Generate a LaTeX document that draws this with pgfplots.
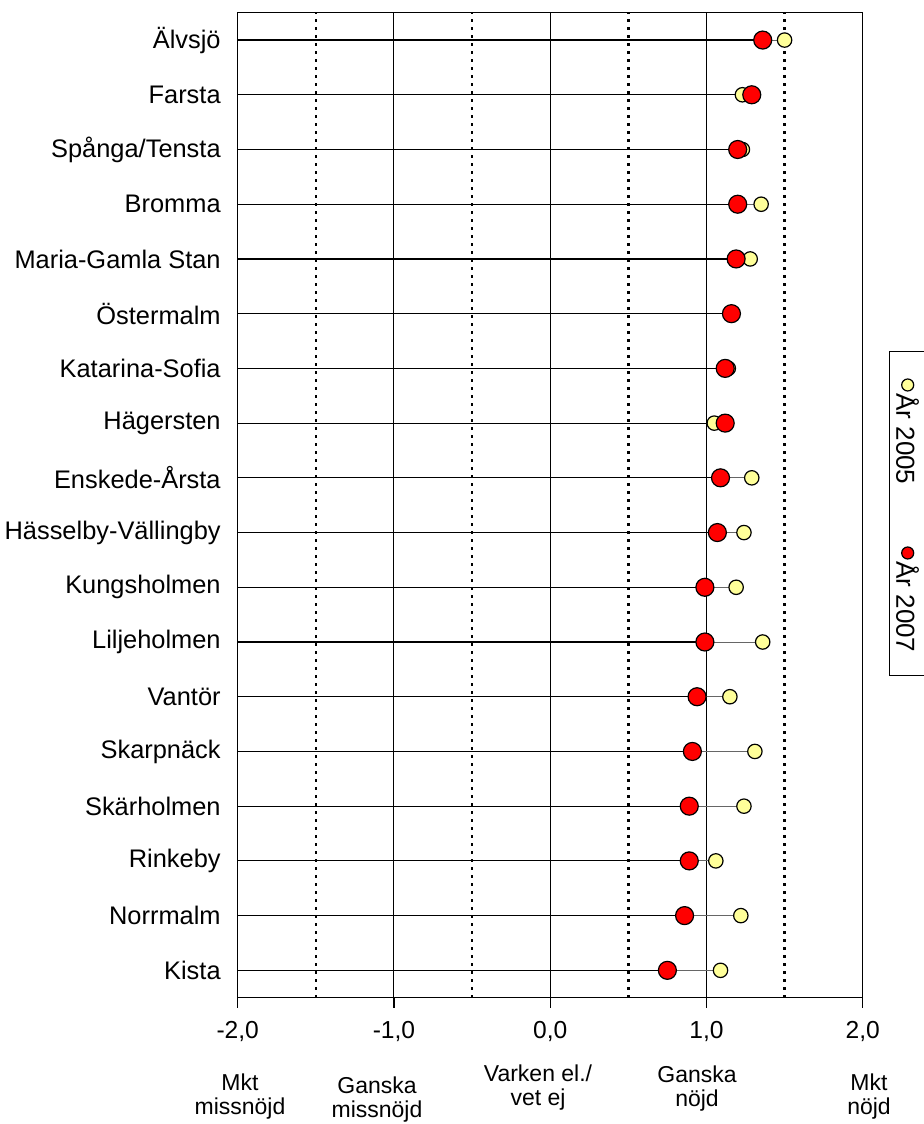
\documentclass[border=0pt]{standalone}
\usepackage{fontspec}
\setmainfont{Liberation Sans}
\usepackage{pgfplots}
\usepackage{pgfplotstable}
\pgfplotsset{compat=1.18}

\definecolor{pale}{HTML}{FFFF99}
\definecolor{dotred}{HTML}{FF0000}

% y = row (17 = top), v05 = År 2005, v07 = År 2007
\pgfplotstableread{
y  v05  v07
17 1.50 1.36
16 1.23 1.29
15 1.23 1.20
14 1.35 1.20
13 1.28 1.19
12 1.16 1.16
11 1.14 1.12
10 1.05 1.12
9  1.29 1.09
8  1.24 1.07
7  1.19 0.99
6  1.36 0.99
5  1.15 0.94
4  1.31 0.91
3  1.24 0.89
2  1.06 0.89
1  1.22 0.86
0  1.09 0.75
}\data

\begin{document}
\begin{tikzpicture}
\begin{axis}[
  name=main, at={(0,0)}, anchor=south west,
  scale only axis, width=312.5pt, height=492.5pt,
  xmin=-2, xmax=2, ymin=-0.5, ymax=17.5,
  xtick={-2,-1,0,1,2},
  minor xtick={-1.5,-0.5,0.5,1.5},
  xtick pos=bottom,
  ytick={0,...,17},
  yticklabels={Kista, Norrmalm, Rinkeby, Skärholmen, Skarpnäck, Vantör,
    Liljeholmen, Kungsholmen, Hässelby-Vällingby, Enskede-Årsta, Hägersten,
    Katarina-Sofia, Östermalm, Maria-Gamla Stan, Bromma, Spånga/Tensta,
    Farsta, Älvsjö},
  xticklabel style={font=\fontsize{12.3}{14}\selectfont, yshift=-3.5pt,
    /pgf/number format/.cd, fixed, fixed zerofill,
    precision=1, use comma, assume math mode=true},
  yticklabel style={font=\fontsize{12.7}{14}\selectfont},
  tick align=outside,
  major tick length=5pt, minor tick length=0pt,
  ytick style={draw=none},
  tick style={black, line width=0.6pt},
  xmajorgrids, xminorgrids,
  major grid style={black, line width=0.5pt},
  minor grid style={black, line width=1.3pt, dash pattern=on 1.5pt off 2.5pt},
  axis line style={line width=0.7pt},
  clip=false,
]
% lines from the left edge to each dot
\addplot[only marks, mark=none,
  error bars/.cd, x dir=minus, x explicit, error mark=none,
  error bar style={black!60, line width=0.5pt}]
  table[x=v05, y=y, x error expr=\thisrow{v05}+2] {\data};
\addplot[only marks, mark=none,
  error bars/.cd, x dir=minus, x explicit, error mark=none,
  error bar style={black, line width=0.6pt}]
  table[x=v07, y=y, x error expr=\thisrow{v07}+2] {\data};
% dots
\addplot[only marks, mark=*, mark size=3.6pt,
  mark options={fill=pale, draw=black, line width=0.6pt}]
  table[x=v05, y=y] {\data};
\addplot[only marks, mark=*, mark size=4.5pt,
  mark options={fill=dotred, draw=black, line width=0.6pt}]
  table[x=v07, y=y] {\data};
\end{axis}

% rotated legend at the right edge
\begin{scope}[shift={(326pt,322.85pt)}, rotate=-90, transform shape]
\draw[line width=0.5pt, fill=white] (0,0) rectangle (162pt,20pt);
\draw[fill=pale, line width=0.6pt] (16.5pt,9pt) circle (3pt);
\node[anchor=west, inner sep=0pt, font=\fontsize{13}{14}\selectfont] at (20.5pt,9pt) {År 2005};
\draw[fill=dotred, line width=0.6pt] (100.5pt,9pt) circle (3pt);
\node[anchor=west, inner sep=0pt, font=\fontsize{13}{14}\selectfont] at (104.5pt,9pt) {År 2007};
\end{scope}

\begin{scope}[font=\fontsize{11.5}{12}\selectfont, every node/.style={align=center, inner sep=0pt}]
\node at (1.15pt,-49.5pt) {Mkt\\missnöjd};
\node at (69.65pt,-51pt) {Ganska\\missnöjd};
\node at (150.15pt,-45pt) {Varken el./\\vet ej};
\node at (229.65pt,-45.5pt) {Ganska\\nöjd};
\node at (315.65pt,-49.5pt) {Mkt\\nöjd};
\end{scope}

\pgfresetboundingbox
\path[use as bounding box] (-118.85pt,-63.15pt) rectangle (343.15pt,498.85pt);
\end{tikzpicture}
\end{document}
